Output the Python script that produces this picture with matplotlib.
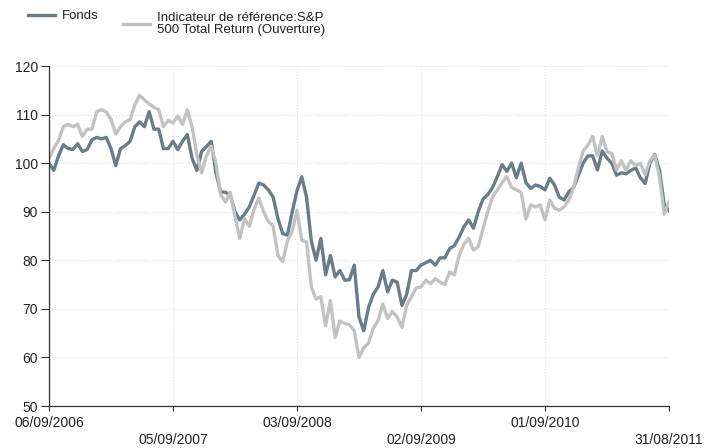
import numpy as np
import pandas as pd
import matplotlib
matplotlib.use("Agg")
import matplotlib.pyplot as plt

plt.rcParams['font.family'] = ['Liberation Sans', 'DejaVu Sans']

start = pd.Timestamp('2006-09-06')
# weeks since 06/09/2006, one point every two weeks
weeks = list(range(0, 261, 2))

fonds = [100, 98.5, 101.5, 103.8, 103, 102.8, 104, 102.4, 102.8, 104.8,
         105.3, 105, 105.3, 103, 99.5, 103, 103.6, 104.5, 107.5, 108.5,
         107.5, 110.6, 107, 107, 103, 103, 104.5, 102.8, 104.5, 105.9,
         101, 98.5, 102.4, 103.4, 104.5, 98, 94.1, 94, 93.4, 90,
         88.3, 89.5, 91, 93.4, 95.9, 95.5, 94.5, 93, 88.6, 85.5,
         85.2, 90, 94.3, 97.2, 93, 84, 80, 84.5, 77, 81,
         76.6, 77.9, 75.9, 76, 79, 68.3, 65.5, 70.3, 73, 74.5,
         77.9, 73.5, 75.9, 75.5, 70.7, 73, 77.9, 77.9, 79, 79.5,
         80, 79, 80.5, 80.5, 82.4, 83, 84.8, 86.9, 88.3, 86.6,
         90, 92.6, 93.5, 95, 97.2, 99.7, 98.3, 100, 97, 100,
         96, 94.8, 95.5, 95.2, 94.5, 96.9, 95.5, 93, 92.4, 94.1,
         95, 97.5, 100, 101.5, 101.5, 98.6, 102.5, 101, 100, 97.5,
         98, 97.8, 98.5, 99, 97, 95.8, 100, 101.8, 98.6, 91.5,
         90.2]

indice = [101, 103, 104.7, 107.5, 108, 107.5, 108, 105.5, 107, 107,
          110.6, 111, 110.5, 109, 106, 107.5, 108.5, 109, 112, 114,
          113, 112.2, 111.5, 111, 107.5, 108.8, 108.3, 109.7, 108, 111,
          107.5, 101.7, 98, 101.4, 103.5, 100, 93.5, 92, 94, 89,
          84.5, 88.6, 87, 90.5, 92.8, 90, 88, 87, 81, 79.7,
          84, 86, 90.3, 84.1, 83.8, 74.5, 72, 72.5, 66.5, 71.7,
          64.1, 67.5, 67, 66.7, 65.5, 60, 62, 63, 66, 67.6,
          71, 68, 69.5, 68.3, 66.2, 70.7, 72.5, 74.3, 74.5, 75.9,
          75.2, 76.2, 75.5, 75, 77.6, 77, 81, 83.3, 84.5, 82.1,
          82.8, 86.5, 90, 93, 94.5, 96, 97.2, 95, 94.5, 94,
          88.5, 91.4, 91, 91.4, 88.3, 92.4, 90.7, 90.3, 91, 92.4,
          95, 99, 102.5, 103.7, 105.5, 101.5, 105.5, 102.4, 102, 98.6,
          100.5, 98.5, 100.5, 99.5, 100, 97.6, 100.5, 101.7, 97.2, 89.5,
          92]

tick_weeks = [0, 52, 104, 156, 208, 260]
y_ticks = [50, 60, 70, 80, 90, 100, 110, 120]

dates = [start + pd.Timedelta(weeks=w) for w in weeks]
tick_dates = [start + pd.Timedelta(weeks=w) for w in tick_weeks]

fig = plt.figure(figsize=(7.07, 4.48), dpi=100)
ax = fig.add_axes([49 / 707, 1 - 406 / 448, 620 / 707, 340 / 448])

line_f, = ax.plot(dates, fonds, color='#687d87', lw=2.4)
line_i, = ax.plot(dates, indice, color='#c2c2c2', lw=2.4)

ax.set_xlim(tick_dates[0], tick_dates[-1])
ax.set_ylim(50, 120)
ax.set_yticks(y_ticks)
ax.set_xticks(tick_dates)
ax.set_xticklabels([d.strftime('%d/%m/%Y') for d in tick_dates])
for i, t in enumerate(ax.xaxis.get_major_ticks()):
    t.set_pad(3.5 if i % 2 == 0 else 15.5)

ax.grid(True, color='#e2e2e2', ls=(0, (1, 1.5)), lw=0.8)
ax.set_axisbelow(True)
for s in ['top', 'right']:
    ax.spines[s].set_visible(False)
for s in ['left', 'bottom']:
    ax.spines[s].set_color('#333333')
    ax.spines[s].set_linewidth(0.9)
ax.tick_params(axis='both', width=0.8, color='#333333', labelsize=10, labelcolor='#222222')
ax.tick_params(axis='x', length=3.8)
ax.tick_params(axis='y', length=6, pad=2)

leg_kw = dict(loc='upper left', frameon=False, fontsize=9.5, handlelength=2.05,
              handletextpad=0.55, borderpad=0, borderaxespad=0, labelcolor='#222222')
leg1 = fig.legend([line_f], ['Fonds'], bbox_to_anchor=(28 / 707, 1 - 10 / 448), **leg_kw)
leg2 = fig.legend([line_i], ['Indicateur de référence:S&P\n500 Total Return (Ouverture)'],
                  bbox_to_anchor=(123 / 707, 1 - 12 / 448), **leg_kw)
for t in leg2.get_texts():
    t.set_linespacing(0.95)

fig.savefig('out.png', dpi=100)
